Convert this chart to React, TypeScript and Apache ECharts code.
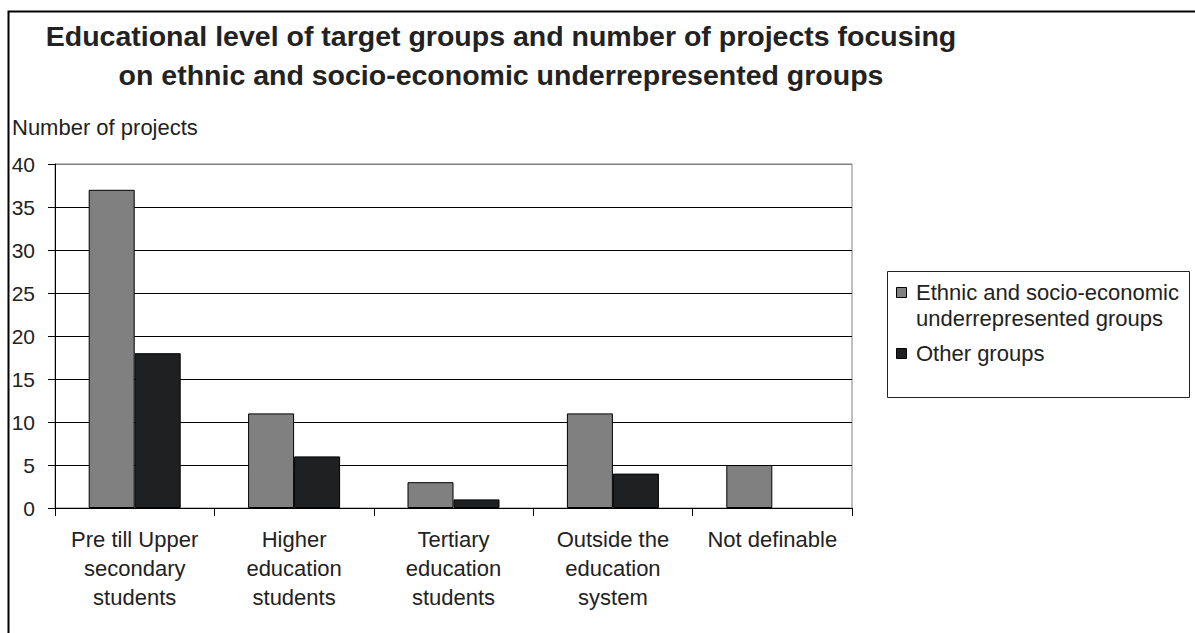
import React, { useEffect, useRef } from "react";
import * as echarts from "echarts";

const titleLines = [
  "Educational level of target groups and number of projects focusing",
  "on ethnic and socio-economic underrepresented groups",
];
const yAxisTitle = "Number of projects";
const categories = [
  "Pre till Upper\nsecondary\nstudents",
  "Higher\neducation\nstudents",
  "Tertiary\neducation\nstudents",
  "Outside the\neducation\nsystem",
  "Not definable",
];
const seriesNames = [
  "Ethnic and socio-economic\nunderrepresented groups",
  "Other groups",
];
const ethnicValues = [37, 11, 3, 11, 5];
const otherValues = [18, 6, 1, 4, 0];
const seriesColors = ["#808080", "#1f2022"];

export default function App() {
  const ref = useRef<HTMLDivElement>(null);
  useEffect(() => {
    if (!ref.current) return;
    const chart = echarts.init(ref.current, null, { renderer: "svg" });
    const font = "'Liberation Sans', Arial, sans-serif";
    const splitColors = ["#000", "#000", "#000", "#000", "#000", "#000", "#000", "#000", "#808080"];
    const toData = (vals: number[]) =>
      vals.map((v) => (v === 0 ? { value: v, itemStyle: { borderWidth: 0 } } : v));
    chart.setOption({
      animation: false,
      backgroundColor: "#fff",
      textStyle: { fontFamily: font },
      title: {
        text: titleLines.join("\n"),
        left: 501,
        top: 16,
        padding: 0,
        textAlign: "center",
        textStyle: {
          fontFamily: font,
          fontSize: 28.5,
          fontWeight: "bold",
          lineHeight: 39,
          color: "#222",
        },
      },
      grid: {
        left: 55,
        top: 164,
        right: 343,
        bottom: 125,
        show: true,
        borderColor: "#808080",
        borderWidth: 1,
        containLabel: false,
      },
      xAxis: {
        type: "category",
        data: categories,
        axisLine: { show: true, lineStyle: { color: "#000", width: 1 } },
        axisTick: { show: true, length: 8, alignWithLabel: false, lineStyle: { color: "#000" } },
        axisLabel: {
          interval: 0,
          fontSize: 22,
          lineHeight: 29,
          color: "#222",
          margin: 17,
          fontFamily: font,
        },
        splitLine: { show: false },
      },
      yAxis: {
        type: "value",
        min: 0,
        max: 40,
        interval: 5,
        axisLine: { show: true, lineStyle: { color: "#000", width: 1 } },
        axisTick: { show: true, length: 7, lineStyle: { color: "#000" } },
        axisLabel: { fontSize: 21, color: "#222", margin: 20, fontFamily: font },
        splitLine: { show: true, lineStyle: { color: splitColors, width: 1 } },
      },
      series: [
        {
          name: seriesNames[0],
          type: "bar",
          data: toData(ethnicValues),
          barWidth: 46,
          barGap: "0%",
          itemStyle: { color: seriesColors[0], borderColor: "#000", borderWidth: 1 },
        },
        {
          name: seriesNames[1],
          type: "bar",
          data: toData(otherValues),
          barWidth: 46,
          barGap: "0%",
          itemStyle: { color: seriesColors[1], borderColor: "#000", borderWidth: 1 },
        },
      ],
      graphic: [
        {
          type: "rect",
          shape: { x: 8.5, y: 11.5, width: 1300, height: 800 },
          style: { fill: "none", stroke: "#000", lineWidth: 2 },
          silent: true,
        },
        {
          type: "text",
          x: 12,
          y: 127,
          style: {
            text: yAxisTitle,
            fontSize: 22,
            fontFamily: font,
            fill: "#222",
            verticalAlign: "middle",
          },
        },
        {
          type: "rect",
          shape: { x: 887.5, y: 271.5, width: 302, height: 126 },
          style: { fill: "#fff", stroke: "#222", lineWidth: 1 },
        },
        {
          type: "rect",
          shape: { x: 896.5, y: 287.5, width: 10, height: 10 },
          style: { fill: seriesColors[0], stroke: "#000", lineWidth: 1 },
        },
        {
          type: "text",
          x: 916,
          y: 279,
          style: {
            text: seriesNames[0],
            fontSize: 22,
            lineHeight: 26,
            fontFamily: font,
            fill: "#222",
            verticalAlign: "top",
          },
        },
        {
          type: "rect",
          shape: { x: 896.5, y: 348.5, width: 10, height: 10 },
          style: { fill: seriesColors[1], stroke: "#000", lineWidth: 1 },
        },
        {
          type: "text",
          x: 916,
          y: 353,
          style: {
            text: seriesNames[1],
            fontSize: 22,
            fontFamily: font,
            fill: "#222",
            verticalAlign: "middle",
          },
        },
      ],
    });
    return () => chart.dispose();
  }, []);
  return (
    <div
      ref={ref}
      style={{ position: "fixed", left: 0, top: 0, width: 1195, height: 633 }}
    />
  );
}
